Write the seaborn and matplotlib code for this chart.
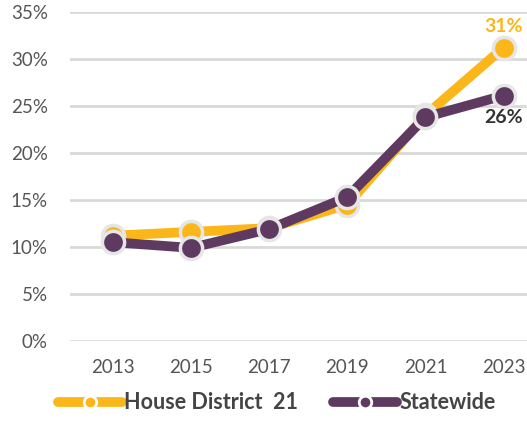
import pandas as pd
import seaborn as sns
import matplotlib.pyplot as plt
from matplotlib.lines import Line2D

years = [2013, 2015, 2017, 2019, 2021, 2023]
house_district = [11.2, 11.6, 12.0, 14.5, 24.0, 31.2]
statewide = [10.5, 9.9, 11.9, 15.3, 23.8, 26.1]
series_names = ['House District  21', 'Statewide']
y_ticks = [0, 5, 10, 15, 20, 25, 30, 35]

colors = {'House District  21': '#FBB61A', 'Statewide': '#5E3A60'}

df = pd.DataFrame({
    'year': years * 2,
    'value': house_district + statewide,
    'series': [series_names[0]] * len(years) + [series_names[1]] * len(years),
})

sns.set_style('white')
plt.rcParams['font.family'] = ['Lato', 'DejaVu Sans']

fig, ax = plt.subplots(figsize=(5.27, 4.22), dpi=100)
fig.subplots_adjust(left=0.133, right=1.0, top=0.972, bottom=0.192)

sns.lineplot(data=df, x='year', y='value', hue='series', palette=colors,
             linewidth=7, marker='o', markersize=16, markeredgecolor='#e6e6e6',
             markeredgewidth=2.5, legend=False, ax=ax, zorder=3)

ax.set_ylim(0, 35)
ax.set_xlim(2011.9, 2023.6)
ax.set_yticks(y_ticks)
ax.set_yticklabels([f'{t}%' for t in y_ticks])
ax.set_xticks(years)
ax.set_xticklabels([str(y) for y in years])
ax.yaxis.grid(True, color='#d9d9d9', linewidth=2)
ax.set_axisbelow(True)
for s in ax.spines.values():
    s.set_visible(False)
ax.tick_params(axis='both', length=0, labelsize=13.5, colors='#555555')
ax.tick_params(axis='y', pad=16)
ax.tick_params(axis='x', pad=13)
ax.set_xlabel('')
ax.set_ylabel('')

ax.annotate(f'{house_district[-1]:.0f}%', (years[-1], house_district[-1]),
            xytext=(0, 9), textcoords='offset points', ha='center', va='bottom',
            color=colors[series_names[0]], fontsize=14, fontweight='bold')
ax.annotate(f'{statewide[-1]:.0f}%', (years[-1], statewide[-1]),
            xytext=(0, -10), textcoords='offset points', ha='center', va='top',
            color='#333333', fontsize=14, fontweight='bold')

handles = [Line2D([0], [0], color=colors[n], linewidth=7, marker='o',
                  markersize=9, markeredgecolor='white', markeredgewidth=2)
           for n in series_names]
leg = fig.legend(handles, series_names, loc='lower center', ncol=2,
                 bbox_to_anchor=(0.525, -0.025), frameon=False, handlelength=3.0,
                 columnspacing=1.6, handletextpad=0.1,
                 prop={'size': 15.5, 'weight': 'bold'})
for t in leg.get_texts():
    t.set_color('#444444')

fig.savefig('out.png', dpi=100)
